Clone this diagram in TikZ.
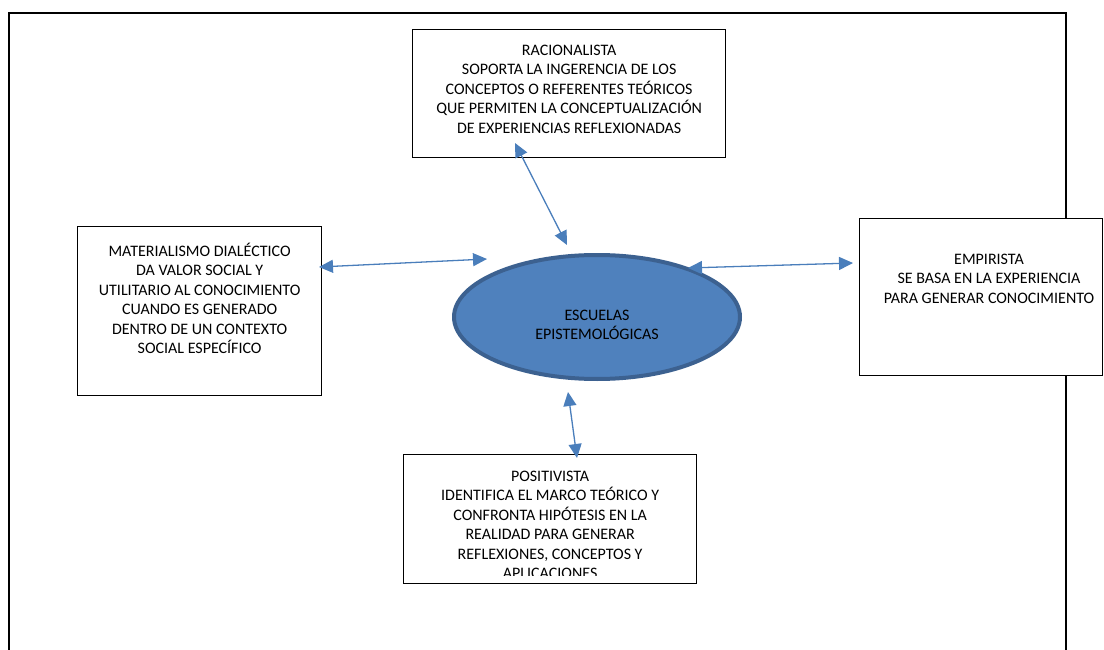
\documentclass[tikz,border=0pt]{standalone}
\usepackage{fontspec}
\setmainfont{Carlito}
\usetikzlibrary{arrows.meta,shapes.geometric}
\definecolor{escfill}{HTML}{4F81BD}
\definecolor{escline}{HTML}{3C6190}
\definecolor{linkblue}{HTML}{4A7EBB}
\tikzset{
  box/.style={draw, line width=1.3pt, fill=white, anchor=north west, inner sep=0pt},
  txt/.style={align=center, anchor=north, inner sep=0pt, font=\fontsize{16}{19.4}\selectfont},
  link/.style={draw=linkblue, line width=1.3pt,
    {Triangle[length=14pt,width=13pt]}-{Triangle[length=14pt,width=13pt]}}
}
\begin{document}
\begin{tikzpicture}[x=1pt,y=-1pt]
      \useasboundingbox (0,0) rectangle (1104,650);
      % marco exterior
      \draw[line width=1.2pt] (9,652) -- (9,13) -- (1066,13) -- (1066,652);
      % cajas
      \node[box, minimum width=313pt, minimum height=128pt] (rac) at (412,29) {};
      \node[box, minimum width=244pt, minimum height=169pt] (mat) at (77,226) {};
      \node[box, minimum width=243pt, minimum height=157pt] (emp) at (859,218) {};
      \node[box, minimum width=293pt, minimum height=129pt] (pos) at (403,454) {};
      \node[ellipse, draw=escline, fill=escfill, line width=4pt,
        minimum width=286pt, minimum height=124pt] (esc) at (597,317) {};
      % textos
      \node[txt] (racT) at ([yshift=-16pt]rac.north) {RACIONALISTA\\SOPORTA LA INGERENCIA DE LOS\\CONCEPTOS O REFERENTES TEÓRICOS\\QUE PERMITEN LA CONCEPTUALIZACIÓN\\DE EXPERIENCIAS REFLEXIONADAS};
      \node[txt] (matT) at ([yshift=-17pt]mat.north) {MATERIALISMO DIALÉCTICO\\DA VALOR SOCIAL Y\\UTILITARIO AL CONOCIMIENTO\\CUANDO ES GENERADO\\DENTRO DE UN CONTEXTO\\SOCIAL ESPECÍFICO};
      \node[txt] (empT) at (989,254) {EMPIRISTA\\SE BASA EN LA EXPERIENCIA\\PARA GENERAR CONOCIMIENTO};
      \begin{scope}
        \clip ([yshift=9pt]pos.south west) rectangle (pos.north east);
        \node[txt] (posT) at ([yshift=-17pt]pos.north) {POSITIVISTA\\IDENTIFICA EL MARCO TEÓRICO Y\\CONFRONTA HIPÓTESIS EN LA\\REALIDAD PARA GENERAR\\REFLEXIONES, CONCEPTOS Y\\APLICACIONES};
      \end{scope}
      \node[align=center, inner sep=0pt, font=\fontsize{16}{19.4}\selectfont] (escT) at (597,325) {ESCUELAS\\EPISTEMOLÓGICAS};
      % flechas
      \coordinate (racA) at (515,143);
      \coordinate (racB) at (567,245);
      \coordinate (matA) at (319,267);
      \coordinate (matB) at (487,259);
      \coordinate (empA) at (688,268);
      \coordinate (empB) at (853,263);
      \coordinate (posA) at (568,392);
      \coordinate (posB) at (577,458);
      \begin{scope}[link]
        \draw (racA) -- (racB);
        \draw (matA) -- (matB);
        \draw (empA) -- (empB);
        \draw (posA) -- (posB);
      \end{scope}
    \end{tikzpicture}
\end{document}
